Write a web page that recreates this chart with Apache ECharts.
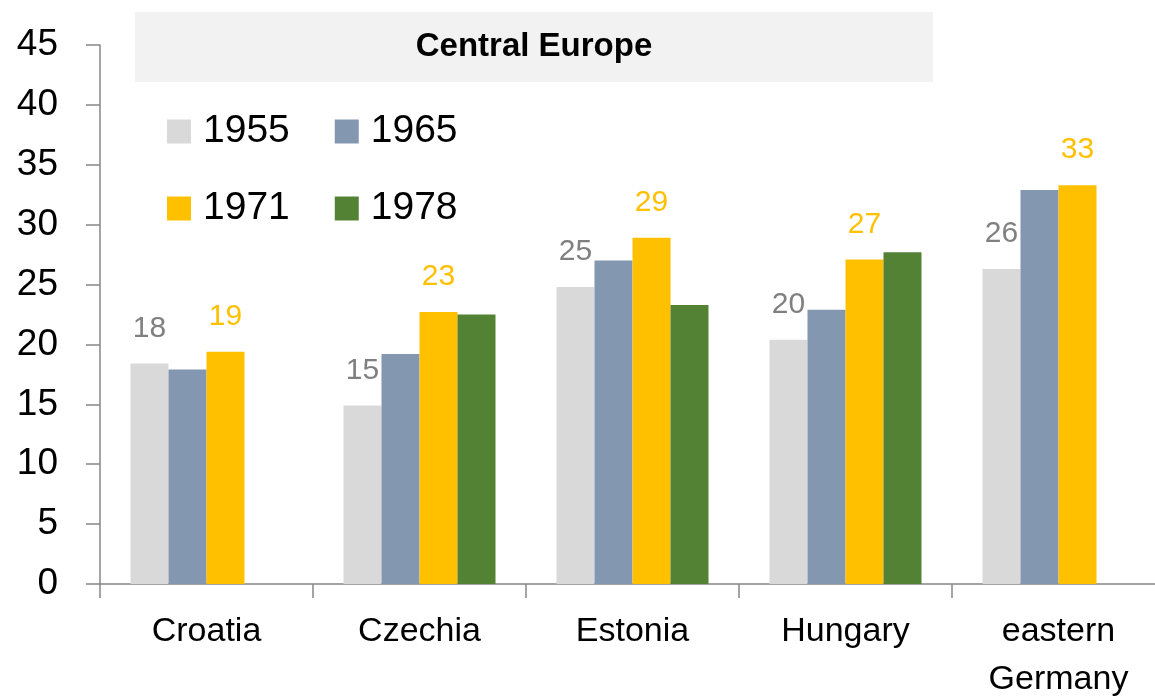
<!DOCTYPE html>
<html>
<head>
<meta charset="utf-8">
<script src="https://cdn.jsdelivr.net/npm/echarts@6/dist/echarts.min.js"></script>
<style>
  html, body { margin: 0; padding: 0; background: #fff; }
  #main { width: 1155px; height: 697px; }
</style>
</head>
<body>
<div id="main"></div>
<script>
// Data
var countries = ['Croatia', 'Czechia', 'Estonia', 'Hungary', 'eastern\nGermany'];
var years = ['1955', '1965', '1971', '1978'];
var v1955 = [18.4, 14.9, 24.8, 20.4, 26.3];
var v1965 = [17.9, 19.2, 27.0, 22.9, 32.9];
var v1971 = [19.4, 22.7, 28.9, 27.1, 33.3];
var v1978 = [null, 22.5, 23.3, 27.7, null];
var yTicks = [0, 5, 10, 15, 20, 25, 30, 35, 40, 45];

var colors = ['#d9d9d9', '#8497b0', '#ffc000', '#548235'];
var font = 'Liberation Sans';

var chartDom = document.getElementById('main');
var myChart = echarts.init(chartDom);

function makeSeries(name, data, color, labelColor) {
    var s = {
        name: name,
        type: 'bar',
        data: data,
        barWidth: 38,
        barGap: '0%',
        itemStyle: { color: color },
        animation: false
    };
    if (labelColor) {
        s.label = {
            show: true,
            position: 'top',
            distance: 20,
            color: labelColor,
            fontFamily: font,
            fontSize: 30,
            formatter: function (p) { return Math.round(p.value); }
        };
    }
    return s;
}

var legendText = { fontFamily: font, fontSize: 39, color: '#000', padding: [0, 0, 0, 7] };

var option = {
    backgroundColor: '#fff',
    grid: { left: 100, top: 45, width: 1065, height: 539, outerBoundsMode: 'none', containLabel: false },
    graphic: [{
        type: 'rect',
        shape: { x: 135, y: 12, width: 798, height: 70 },
        style: { fill: '#f2f2f2' },
        z: 0
    }, {
        type: 'text',
        x: 534,
        y: 47,
        style: {
            text: 'Central Europe',
            fill: '#000',
            font: 'bold 33px "Liberation Sans"',
            textAlign: 'center',
            textVerticalAlign: 'middle'
        },
        z: 1
    }],
    legend: [{
        data: ['1955', '1965'],
        left: 162,
        top: 107,
        itemWidth: 24,
        itemHeight: 24,
        itemGap: 45,
        icon: 'rect',
        textStyle: legendText
    }, {
        data: ['1971', '1978'],
        left: 162,
        top: 184,
        itemWidth: 24,
        itemHeight: 24,
        itemGap: 45,
        icon: 'rect',
        textStyle: legendText
    }],
    xAxis: {
        type: 'category',
        data: countries,
        axisLine: { lineStyle: { color: '#868686', width: 1.5 } },
        axisTick: { show: true, length: 14, lineStyle: { color: '#868686', width: 1.5 } },
        axisLabel: {
            fontFamily: font,
            fontSize: 34,
            lineHeight: 48,
            color: '#000',
            margin: 24
        }
    },
    yAxis: {
        type: 'value',
        min: yTicks[0],
        max: yTicks[yTicks.length - 1],
        interval: 5,
        splitLine: { show: false },
        axisLine: { show: true, lineStyle: { color: '#868686', width: 1.5 } },
        axisTick: { show: true, length: 14, lineStyle: { color: '#868686', width: 1.5 } },
        axisLabel: {
            fontFamily: font,
            fontSize: 37,
            color: '#000',
            margin: 42
        }
    },
    series: [
        makeSeries(years[0], v1955, colors[0], '#808080'),
        makeSeries(years[1], v1965, colors[1]),
        makeSeries(years[2], v1971, colors[2], '#ffc000'),
        makeSeries(years[3], v1978, colors[3])
    ]
};

option && myChart.setOption(option);

window.addEventListener('resize', function () {
    myChart.resize();
});
</script>
</body>
</html>
